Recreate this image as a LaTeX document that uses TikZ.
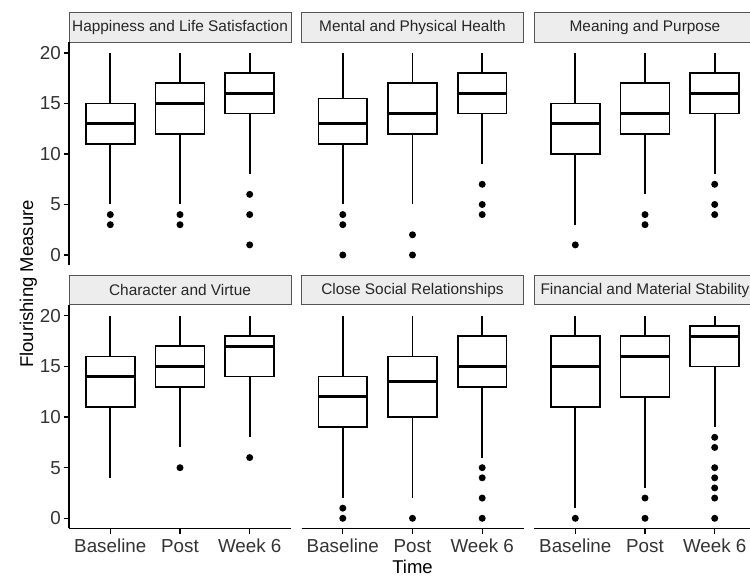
\documentclass[tikz,border=0pt]{standalone}
\usepackage{fontspec}
\setmainfont{Liberation Sans}
\definecolor{stripfill}{HTML}{EDEDED}
\definecolor{stripline}{HTML}{555555}
\definecolor{ticktext}{HTML}{333333}
\newcommand{\bxplot}[6]{%
  \draw[boxline] (#1,#2) -- (#1,#3);
  \draw[boxline] (#1,#5) -- (#1,#6);
  \draw[boxline,fill=white] ({#1-24.4},#5) rectangle ({#1+24.4},#3);
  \draw[medline] ({#1-24.4},#4) -- ({#1+24.4},#4);
}
\newcommand{\outl}[2]{\foreach \o in {#2}{\fill (#1,\o) circle (3.5pt);}}
\tikzset{
  boxline/.style={line width=1.7pt,black},
  medline/.style={line width=3.2pt,black},
  axisline/.style={line width=1.2pt,black},
  strip/.style={draw=stripline,fill=stripfill,line width=1pt,minimum width=222pt,inner sep=0pt,text=black!85,font=\fontsize{15.4}{18}\selectfont},
  ytick/.style={anchor=east,text=ticktext,inner sep=0pt,font=\fontsize{18.8}{22}\selectfont},
  xtick/.style={anchor=base,text=ticktext,inner sep=0pt,font=\fontsize{18.8}{22}\selectfont},
  axtitle/.style={text=black,inner sep=0pt,font=\fontsize{18.5}{22}\selectfont}
}
\begin{document}
\begin{tikzpicture}[x=1pt,y=1pt]
\useasboundingbox (0,0) rectangle (750,577);
% strips
\node[strip,minimum height=29.6pt] (s1) at (180,549.5) {Happiness and Life Satisfaction};
\node[strip,minimum height=29.6pt] (s2) at (412.5,549.5) {Mental and Physical Health};
\node[strip,minimum height=29.6pt] (s3) at (645,549.5) {Meaning and Purpose};
\node[strip,minimum height=29pt] (s4) at (180,286.5) {Character and Virtue};
\node[strip,minimum height=29pt] (s5) at (412.5,286.5) {Close Social Relationships};
\node[strip,minimum height=29pt] (s6) at (645,286.5) {Financial and Material Stability};
% top row
\begin{scope}[yshift=322pt,y=10.1pt]
  \draw[axisline] (69,-1) -- (69,21.05);
  \foreach \v in {0,5,10,15,20}{
    \draw[axisline] (63.5,\v) -- (69,\v);
    \node[ytick] (ta\v) at (61,\v) {\v};
  }
  \bxplot{110.3}{20}{15}{13}{11}{5} \outl{110.3}{4,3}
  \bxplot{180}{20}{17}{15}{12}{5} \outl{180}{4,3}
  \bxplot{249.7}{20}{18}{16}{14}{8} \outl{249.7}{6,4,1}
  \bxplot{342.8}{20}{15.5}{13}{11}{5} \outl{342.8}{4,3,0}
  \bxplot{412.5}{20}{17}{14}{12}{5} \outl{412.5}{2,0}
  \bxplot{482.2}{20}{18}{16}{14}{9} \outl{482.2}{7,5,4}
  \bxplot{575.3}{20}{15}{13}{10}{3} \outl{575.3}{1}
  \bxplot{645}{20}{17}{14}{12}{6} \outl{645}{4,3}
  \bxplot{714.7}{20}{18}{16}{14}{8} \outl{714.7}{7,5,4}
\end{scope}
% bottom row
\begin{scope}[yshift=58.7pt,y=10.12pt]
  \draw[axisline] (69,-1) -- (69,21.05);
  \foreach \v in {0,5,10,15,20}{
    \draw[axisline] (63.5,\v) -- (69,\v);
    \node[ytick] (tb\v) at (61,\v) {\v};
  }
  \draw[axisline] (69,-1) -- (291,-1);
  \draw[axisline] (301.5,-1) -- (523.5,-1);
  \draw[axisline] (534,-1) -- (756,-1);
  \foreach \c in {110.3,180,249.7,342.8,412.5,482.2,575.3,645,714.7}{
    \draw[axisline] (\c,-1) -- (\c,-1.55);
  }
  \bxplot{110.3}{20}{16}{14}{11}{4}
  \bxplot{180}{20}{17}{15}{13}{7} \outl{180}{5}
  \bxplot{249.7}{20}{18}{17}{14}{8} \outl{249.7}{6}
  \bxplot{342.8}{20}{14}{12}{9}{2} \outl{342.8}{1,0}
  \bxplot{412.5}{20}{16}{13.5}{10}{2} \outl{412.5}{0}
  \bxplot{482.2}{20}{18}{15}{13}{6} \outl{482.2}{5,4,2,0}
  \bxplot{575.3}{20}{18}{15}{11}{1} \outl{575.3}{0}
  \bxplot{645}{20}{18}{16}{12}{3} \outl{645}{2,0}
  \bxplot{714.7}{20}{19}{18}{15}{9} \outl{714.7}{8,7,5,4,3,2,0}
\end{scope}
% x tick labels
\node[xtick] (xa1) at (110.3,24.5) {Baseline};
\node[xtick] (xa2) at (180,24.5) {Post};
\node[xtick] (xa3) at (249.7,24.5) {Week 6};
\node[xtick] (xb1) at (342.8,24.5) {Baseline};
\node[xtick] (xb2) at (412.5,24.5) {Post};
\node[xtick] (xb3) at (482.2,24.5) {Week 6};
\node[xtick] (xc1) at (575.3,24.5) {Baseline};
\node[xtick] (xc2) at (645,24.5) {Post};
\node[xtick] (xc3) at (714.7,24.5) {Week 6};
% axis titles
\node[axtitle,anchor=base] (xtitle) at (412.5,3.7) {Time};
\node[axtitle,anchor=base,rotate=90] (ytitle) at (33,293) {Flourishing Measure};
\end{tikzpicture}
\end{document}
